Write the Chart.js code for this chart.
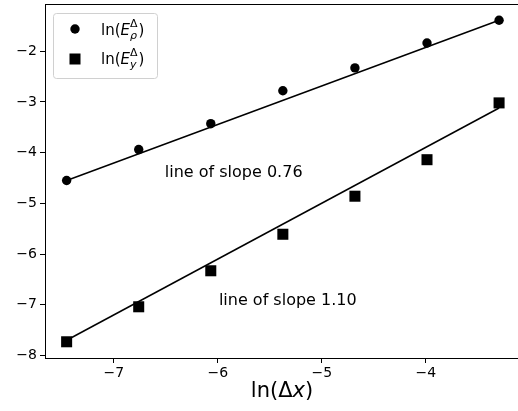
<!DOCTYPE html>
<html>
<head>
    <script src="https://cdn.jsdelivr.net/npm/chart.js@4.4.0/dist/chart.umd.min.js"></script>
    <style>
        html, body { margin: 0; padding: 0; background: #fff; overflow: hidden; }
        #box { width: 518px; height: 411px; }
    </style>
</head>
<body>
    <div id="box"><canvas id="myChart"></canvas></div>
    <script>
        // ln(dx) for each refinement
        const lnDx = [-7.454, -6.761, -6.068, -5.375, -4.682, -3.989, -3.296];
        // errors
        const lnErrRho = [-4.55, -3.94, -3.43, -2.78, -2.33, -1.84, -1.39];
        const lnErrY = [-7.73, -7.04, -6.33, -5.61, -4.86, -4.14, -3.02];
        // fitted lines (end points)
        const fitX = [-7.454, -3.296];
        const fitRho = [-4.55, -1.39];
        const fitY = [-7.70, -3.12];
        const yTicks = [-8, -7, -6, -5, -4, -3, -2];
        const xTicks = [-7, -6, -5, -4];
        const slopeText = ['line of slope 0.76', 'line of slope 1.10'];
        const slopeAt = [[-6.51, -4.49], [-5.99, -7.0]];

        const FONT = "'DejaVu Sans', sans-serif";
        const minus = v => String(v).replace('-', '\u2212');
        const pts = (xs, ys) => xs.map((x, i) => ({ x: x, y: ys[i] }));

        // draw text pieces one after another; a "stack" piece is a sup/sub pair
        function drawPieces(ctx, x, y, pieces) {
            pieces.forEach(p => {
                if (p.stack) {
                    let w = 0;
                    p.stack.forEach(s => {
                        ctx.font = (s.italic ? 'italic ' : '') + s.size + 'px ' + FONT;
                        ctx.fillText(s.t, x, y + s.dy);
                        w = Math.max(w, ctx.measureText(s.t).width);
                    });
                    x += w + 1;
                } else {
                    ctx.font = (p.italic ? 'italic ' : '') + p.size + 'px ' + FONT;
                    ctx.fillText(p.t, x, y);
                    x += ctx.measureText(p.t).width;
                }
            });
            return x;
        }

        const noPad = s => { s.paddingTop = 0; s.paddingBottom = 0; s.paddingLeft = 0; s.paddingRight = 0; };

        const extras = {
            id: 'extras',
            afterDraw(chart) {
                const ctx = chart.ctx;
                const a = chart.chartArea;
                const sx = chart.scales.x, sy = chart.scales.y;
                ctx.save();
                // top spine
                ctx.strokeStyle = '#000';
                ctx.lineWidth = 1;
                ctx.beginPath();
                ctx.moveTo(a.left, a.top + 0.5);
                ctx.lineTo(a.right, a.top + 0.5);
                ctx.stroke();

                // slope annotations
                ctx.fillStyle = '#000';
                ctx.textBaseline = 'alphabetic';
                ctx.textAlign = 'left';
                ctx.font = '16px ' + FONT;
                slopeText.forEach((t, i) => {
                    ctx.fillText(t, sx.getPixelForValue(slopeAt[i][0]), sy.getPixelForValue(slopeAt[i][1]));
                });

                // x axis title ln(Δx)
                const title = [
                    { t: 'ln(Δ', size: 21 },
                    { t: 'x', size: 21, italic: true },
                    { t: ')', size: 21 }
                ];
                let tw = 0;
                title.forEach(p => {
                    ctx.font = (p.italic ? 'italic ' : '') + p.size + 'px ' + FONT;
                    tw += ctx.measureText(p.t).width;
                });
                drawPieces(ctx, 282 - tw / 2, 397, title);

                // legend
                const lx = 53, ly = 13, lw = 104, lh = 65;
                ctx.fillStyle = 'rgba(255,255,255,0.8)';
                ctx.strokeStyle = '#d0d0d0';
                ctx.beginPath();
                ctx.roundRect(lx + 0.5, ly + 0.5, lw, lh, 3);
                ctx.fill();
                ctx.stroke();
                ctx.fillStyle = '#000';
                ctx.beginPath();
                ctx.arc(75, 29, 4.7, 0, Math.PI * 2);
                ctx.fill();
                ctx.fillRect(69.5, 53.5, 11, 11);
                drawPieces(ctx, 101, 35, [
                    { t: 'ln(', size: 15 },
                    { t: 'E', size: 15, italic: true },
                    { stack: [{ t: 'Δ', size: 11, dy: -8 }, { t: 'ρ', size: 11, italic: true, dy: 4 }] },
                    { t: ')', size: 15 }
                ]);
                drawPieces(ctx, 101, 64, [
                    { t: 'ln(', size: 15 },
                    { t: 'E', size: 15, italic: true },
                    { stack: [{ t: 'Δ', size: 11, dy: -8 }, { t: 'y', size: 11, italic: true, dy: 4 }] },
                    { t: ')', size: 15 }
                ]);
                ctx.restore();
            }
        };

        new Chart(document.getElementById('myChart'), {
            type: 'scatter',
            data: {
                datasets: [
                    {
                        data: pts(fitX, fitRho), showLine: true, borderColor: '#000',
                        borderWidth: 1.5, pointRadius: 0
                    },
                    {
                        data: pts(fitX, fitY), showLine: true, borderColor: '#000',
                        borderWidth: 1.5, pointRadius: 0
                    },
                    {
                        data: pts(lnDx, lnErrRho), pointStyle: 'circle', pointRadius: 4.7,
                        backgroundColor: '#000', borderWidth: 0
                    },
                    {
                        data: pts(lnDx, lnErrY), pointStyle: 'rect', pointRadius: 7.8,
                        backgroundColor: '#000', borderWidth: 0
                    }
                ]
            },
            options: {
                responsive: true,
                maintainAspectRatio: false,
                animation: false,
                layout: { autoPadding: false, padding: { top: 4, right: 0, left: 0, bottom: 0 } },
                plugins: { legend: { display: false }, tooltip: { enabled: false } },
                scales: {
                    x: {
                        min: -7.662, max: -3.114,
                        afterBuildTicks: s => { s.ticks = xTicks.map(v => ({ value: v })); },
                        afterFit: s => { s.height = 53; noPad(s); },
                        border: { color: '#000', width: 1 },
                        grid: { drawOnChartArea: false, tickLength: 5, tickColor: '#000' },
                        ticks: { color: '#000', padding: 2, font: { family: FONT, size: 14 }, callback: minus }
                    },
                    y: {
                        min: -8.05, max: -1.07,
                        afterBuildTicks: s => { s.ticks = yTicks.map(v => ({ value: v })); },
                        afterFit: s => { s.width = 45; noPad(s); },
                        border: { color: '#000', width: 1 },
                        grid: { drawOnChartArea: false, tickLength: 5, tickColor: '#000' },
                        ticks: { color: '#000', padding: 3, font: { family: FONT, size: 14 }, callback: minus }
                    }
                }
            },
            plugins: [extras]
        });
    </script>
</body>
</html>
